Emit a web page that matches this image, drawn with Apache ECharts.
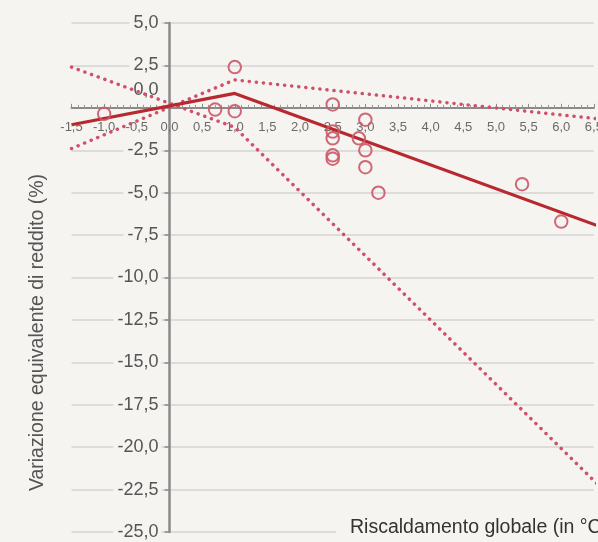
<!DOCTYPE html>
<html>
<head>
<meta charset="utf-8">
<script src="https://cdn.jsdelivr.net/npm/echarts@6/dist/echarts.min.js"></script>
<style>
html,body{margin:0;padding:0;background:#f5f4f1;}
#chart{width:598px;height:542px;}
</style>
</head>
<body>
<div id="chart"></div>
<script>
// ---- data ----
var centralX = [-1.5, 1.0, 6.56];
var centralY = [-1.0, 0.85, -6.95];
var boundAX = [-1.5, 1.0, 6.56];
var boundAY = [2.4, -1.15, -22.2];
var boundBX = [-1.5, 1.0, 6.56];
var boundBY = [-2.4, 1.65, -0.65];
var studyX = [-1.0, 0.7, 1.0, 1.0, 2.5, 2.5, 2.5, 2.5, 2.5, 2.9, 3.0, 3.0, 3.0, 3.2, 5.4, 6.0];
var studyY = [-0.35, -0.1, 2.4, -0.2, 0.2, -1.4, -1.8, -2.8, -3.0, -1.8, -0.7, -2.5, -3.5, -5.0, -4.5, -6.7];
var xTickLabels = ['-1,5','-1,0','-0,5','0,0','0,5','1,0','1,5','2,0','2,5','3,0','3,5','4,0','4,5','5,0','5,5','6,0','6,5'];
var yTickLabels = ['5,0','2,5','0,0','-2,5','-5,0','-7,5','-10,0','-12,5','-15,0','-17,5','-20,0','-22,5','-25,0'];
var yAxisTitle = 'Variazione equivalente di reddito (%)';
var xAxisTitle = 'Riscaldamento globale (in °C)';

function zip(xs, ys){ return xs.map(function(x,i){ return [x, ys[i]]; }); }

var BG = '#f5f4f1';
var FONT = 'Liberation Sans, Arial, sans-serif';

var GL = 71.5, GT = 23, GW = 522.4, GH = 509;
var XMIN = -1.5, XMAX = 6.5, YMIN = -25, YMAX = 5;
// offsets so the axes cross at the origin
var yAxisOffset = -(0 - XMIN) / (XMAX - XMIN) * GW;
var xAxisOffset = -(0 - YMIN) / (YMAX - YMIN) * GH;

var chart = echarts.init(document.getElementById('chart'), null, {renderer:'canvas'});
var dotted = {color:'#d0506a', width:3.5, type:[0.1, 7], cap:'round'};

chart.setOption({
  backgroundColor: BG,
  animation: false,
  grid: {left: GL, top: GT, width: GW, height: GH, containLabel: false, outerBoundsMode: 'none'},
  xAxis: {
    type: 'value', min: XMIN, max: XMAX, interval: 0.5, position: 'bottom', offset: xAxisOffset,
    axisLine: {onZero: false, lineStyle: {color: '#8a8a8a', width: 2}},
    axisTick: {show: true, inside: true, length: 4, lineStyle: {color: '#8a8a8a', width: 1}},
    minorTick: {show: true, splitNumber: 5, length: 3, lineStyle: {color: '#9a9a9a', width: 1}},
    splitLine: {show: false},
    axisLabel: {
      color: '#6a6a6a', fontFamily: FONT, fontSize: 13, margin: 13,
      formatter: function(v){
        var i = Math.round((v - XMIN) / 0.5);
        return xTickLabels[i] || '';
      }
    }
  },
  yAxis: {
    type: 'value', min: YMIN, max: YMAX, interval: 2.5, position: 'left', offset: yAxisOffset,
    name: yAxisTitle, nameLocation: 'middle', nameGap: 122, nameRotate: 90,
    nameTextStyle: {color: '#555', fontFamily: FONT, fontSize: 19.5, padding: [0, 110, 0, 0]},
    axisLine: {show: true, onZero: false, lineStyle: {color: '#8a8a8a', width: 2.5}},
    axisTick: {show: true, inside: false, length: 5, lineStyle: {color: '#8a8a8a', width: 1.5}},
    splitLine: {show: true, lineStyle: {color: '#d4d4d2', width: 1.5}},
    axisLabel: {
      margin: 8,
      formatter: function(v){
        var i = Math.round((YMAX - v) / 2.5);
        var s = yTickLabels[i];
        return Math.abs(v) < 1e-9 ? '{z|' + s + '}' : '{n|' + s + '}';
      },
      rich: {
        n: {color: '#555', fontFamily: FONT, fontSize: 18, backgroundColor: BG, padding: [2, 3, 2, 4]},
        z: {color: '#555', fontFamily: FONT, fontSize: 18, padding: [0, 3, 36, 4]}
      }
    }
  },
  graphic: [{
    type: 'text', left: 336, top: 516, z: 100,
    style: {text: xAxisTitle, fill: '#333', font: '19.5px Liberation Sans, Arial, sans-serif',
            backgroundColor: BG, padding: [2, 0, 2, 14]}
  }],
  series: [
    {type: 'line', data: zip(boundAX, boundAY), symbol: 'none', clip: false, lineStyle: dotted, z: 2},
    {type: 'line', data: zip(boundBX, boundBY), symbol: 'none', clip: false, lineStyle: dotted, z: 2},
    {type: 'line', data: zip(centralX, centralY), symbol: 'none', clip: false,
     lineStyle: {color: '#b8282f', width: 3.2}, z: 3},
    {type: 'scatter', data: zip(studyX, studyY), symbol: 'circle', symbolSize: 12.5, z: 4,
     itemStyle: {color: 'rgba(0,0,0,0)', borderColor: '#cc5868', borderWidth: 2, opacity: 0.9}}
  ]
});
</script>
</body>
</html>
